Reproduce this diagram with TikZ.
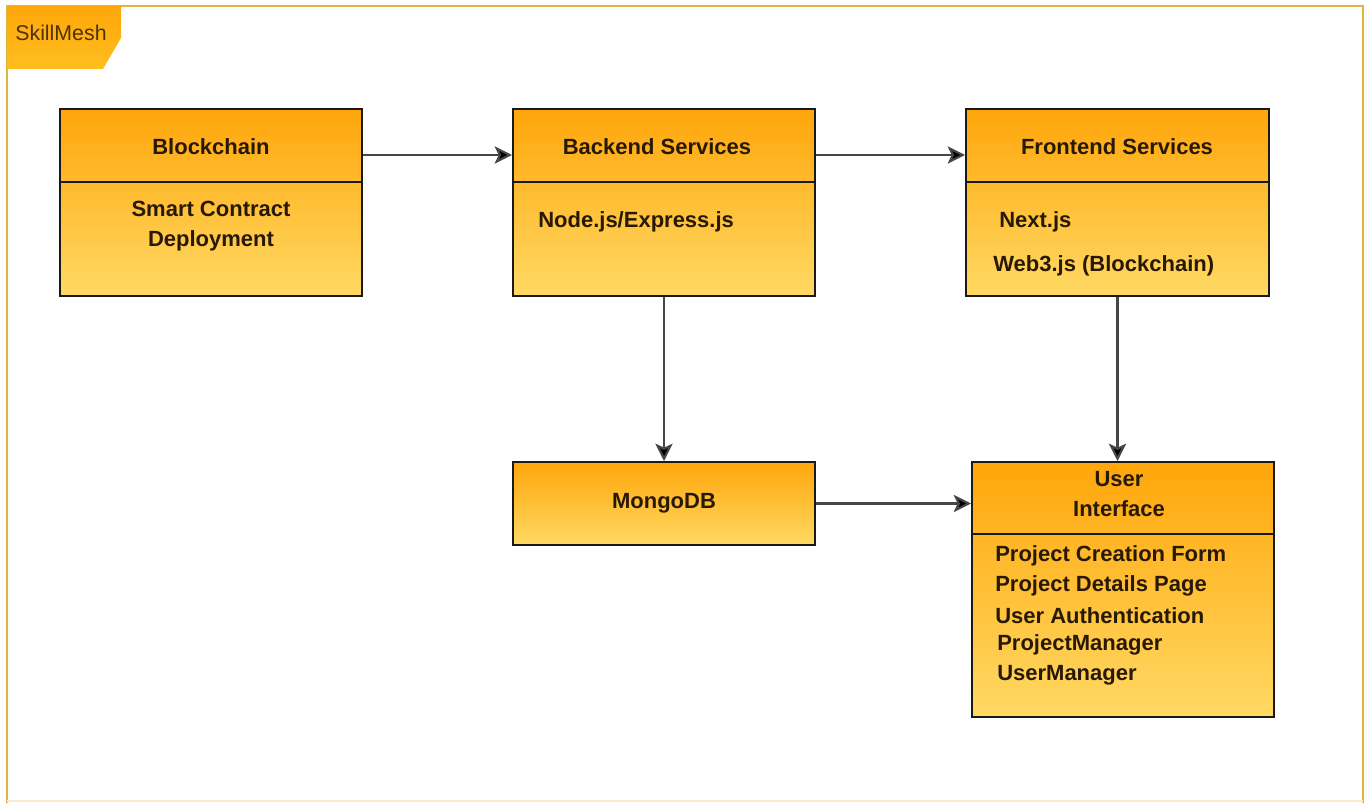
\documentclass[tikz,border=0pt]{standalone}
\usepackage{fontspec}
\setmainfont{Liberation Sans}
\usetikzlibrary{fit,arrows.meta}
\definecolor{txt}{RGB}{40,25,5}
\definecolor{orangeTop}{RGB}{255,166,10}
\definecolor{orangeBot}{RGB}{255,217,100}
\definecolor{frameGold}{RGB}{225,180,60}
\definecolor{arrowGray}{RGB}{70,70,70}
\tikzset{
  box/.style={draw=black!90, line width=1.5pt, top color=orangeTop, bottom color=orangeBot, inner sep=0pt},
  divider/.style={draw=black!90, line width=2.2pt},
  lbl/.style={font=\bfseries\fontsize{16.5}{19}\selectfont, text=txt, inner sep=0pt},
  flow/.style={draw=arrowGray, line width=1.6pt, -{Stealth[length=13pt,width=13pt,inset=3pt,fill=black]}},
}
\begin{document}
\begin{tikzpicture}[x=0.75pt,y=-0.75pt]
\useasboundingbox (0,0) rectangle (1367,803);
% outer frame
\draw[frameGold, line width=1.6pt] (7,803) -- (7,6) -- (1363,6) -- (1363,803);
\draw[frameGold!25, line width=1pt] (7,801) -- (1363,801);
% tab
\path[top color=orangeTop, bottom color={rgb,255:red,255;green,190;blue,30}] (7,6) -- (121,6) -- (121,38) -- (103,69) -- (7,69) -- cycle;
\node[font=\fontsize{16}{19}\selectfont, text={rgb,255:red,80;green,50;blue,5}, inner sep=0pt] (tab) at (61,33) {SkillMesh};

% Blockchain
\node[box, fit={(60,109) (362,296)}] (bc) {};
\draw[divider] (60,182) -- (362,182);
\node[lbl] (bct) at (211,147) {Blockchain};
\node[lbl, align=center] (bcb) at (211,226) {Smart Contract\\[4pt]Deployment};

% Backend
\node[box, fit={(513,109) (815,296)}] (be) {};
\draw[divider] (513,182) -- (815,182);
\node[lbl] (bet) at (657,147) {Backend Services};
\node[lbl, anchor=west] (beb) at (538,222) {Node.js/Express.js};

% Frontend
\node[box, fit={(966,109) (1269,296)}] (fe) {};
\draw[divider] (966,182) -- (1269,182);
\node[lbl] (fet) at (1117,147) {Frontend Services};
\node[lbl, anchor=west] (feb1) at (999,222) {Next.js};
\node[lbl, anchor=west] (feb2) at (993,266) {Web3.js (Blockchain)};

% MongoDB
\node[box, fit={(513,462) (815,545)}] (db) {};
\node[lbl] (dbt) at (664,503) {MongoDB};

% User Interface
\node[box, fit={(972,462) (1274,717)}] (ui) {};
\draw[divider] (972,534) -- (1274,534);
\node[lbl, align=center] (uit) at (1119,494) {User\\[4pt]Interface};
\node[lbl, anchor=west] (uib1) at (995,556) {Project Creation Form};
\node[lbl, anchor=west] (uib2) at (995,586) {Project Details Page};
\node[lbl, anchor=west] (uib3) at (995,616) {User Authentication};
\node[lbl, anchor=west] (uib4) at (997,645) {ProjectManager};
\node[lbl, anchor=west] (uib5) at (997,675) {UserManager};

% connectors
\draw[flow] (bc.east |- 0,155) -- (be.west |- 0,155);
\draw[flow] (be.east |- 0,155) -- (fe.west |- 0,155);
\draw[flow] (be.south) -- (db.north);
\draw[flow] (fe.south) -- (fe.south |- ui.north);
\draw[flow] (db.east) -- (ui.west |- db.east);
\end{tikzpicture}
\end{document}
